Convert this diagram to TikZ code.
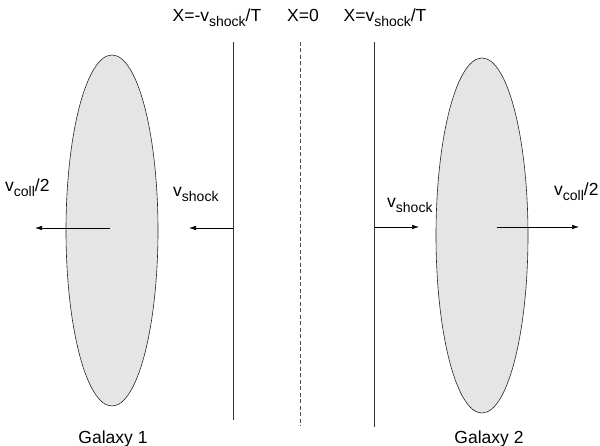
\documentclass[tikz,border=0pt]{standalone}
\usepackage{fontspec}
\setmainfont{Liberation Sans}
\usetikzlibrary{shapes.geometric,arrows.meta}
\newcommand\mysub[1]{\raisebox{-0.28em}{\fontsize{14}{15}\selectfont #1}}
\begin{document}
\begin{tikzpicture}[x=1pt,y=-1pt,
  galaxy/.style={ellipse,draw=black!85,fill=black!10,line width=0.6pt,inner sep=0pt},
  lab/.style={font=\fontsize{17.5}{20}\selectfont,inner sep=0pt},
  front/.style={line width=0.8pt,draw=black!80},
  vel/.style={line width=0.6pt,-{Latex[length=7pt,width=4.5pt]}}]
\useasboundingbox (0,0) rectangle (600,446);
\node[galaxy,minimum width=92pt,minimum height=351pt] (g1) at (112,230.5) {};
\node[galaxy,minimum width=92pt,minimum height=355pt] (g2) at (482,235.5) {};
\coordinate (s1t) at (233,42); \coordinate (s1b) at (233,420);
\coordinate (s0t) at (300.5,42); \coordinate (s0b) at (300.5,426);
\coordinate (s2t) at (374.5,42); \coordinate (s2b) at (374.5,427);
\draw[front] (s1t) -- (s1b);
\draw[draw=black!70,dash pattern=on 4pt off 2.5pt,line width=0.6pt] (s0t) -- (s0b);
\draw[front] (s2t) -- (s2b);
\coordinate (a1s) at (110,228); \coordinate (a1e) at (35,228);
\coordinate (a2s) at (233,228); \coordinate (a2e) at (189,228);
\coordinate (a3s) at (374.5,227); \coordinate (a3e) at (419,227);
\coordinate (a4s) at (497,227); \coordinate (a4e) at (579,227);
\draw[vel] (a1s) -- (a1e);
\draw[vel] (a2s) -- (a2e);
\draw[vel] (a3s) -- (a3e);
\draw[vel] (a4s) -- (a4e);
\node[lab,anchor=base] (t1) at (217,22) {X=-v\mysub{shock}/T};
\node[lab,anchor=base] (t0) at (303,22) {X=0};
\node[lab,anchor=base] (t2) at (385,22) {X=v\mysub{shock}/T};
\node[lab,anchor=base west] (vc1) at (5,192) {v\mysub{coll}/2};
\node[lab,anchor=base west] (vs1) at (173,197) {v\mysub{shock}};
\node[lab,anchor=base west] (vs2) at (387,208) {v\mysub{shock}};
\node[lab,anchor=base west] (vc2) at (554,196) {v\mysub{coll}/2};
\node[lab,anchor=base] (gl1) at (113,443) {Galaxy 1};
\node[lab,anchor=base] (gl2) at (489,443) {Galaxy 2};
\end{tikzpicture}
\end{document}
